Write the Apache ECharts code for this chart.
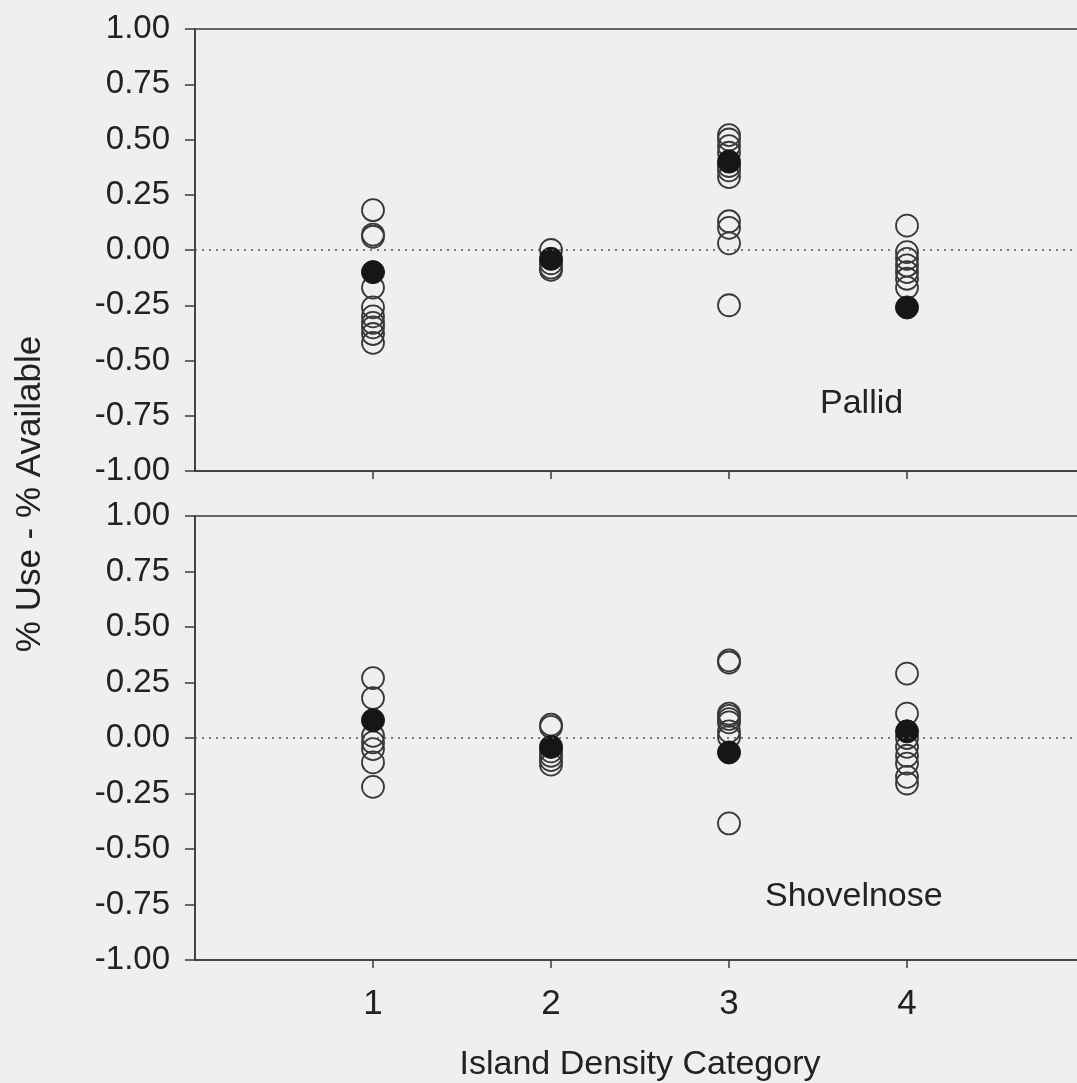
<!DOCTYPE html>
<html>
<head>
<meta charset="utf-8">
<script src="https://cdn.jsdelivr.net/npm/echarts@6/dist/echarts.min.js"></script>
<style>
  html, body { margin: 0; padding: 0; background: #efefee; }
  #chart { width: 1077px; height: 1083px; }
</style>
</head>
<body>
<div id="chart"></div>
<script>
// island density categories on the x axis
var categories = [1, 2, 3, 4]

// open circles: individual values per category
var pallidObs = [
    [0.18, 0.07, 0.06, -0.17, -0.26, -0.30, -0.33, -0.35, -0.38, -0.42],
    [0.00, -0.06, -0.08, -0.09],
    [0.52, 0.50, 0.47, 0.44, 0.38, 0.36, 0.33, 0.13, 0.10, 0.03, -0.25],
    [0.11, -0.01, -0.04, -0.07, -0.10, -0.13, -0.17]
]
var shovelnoseObs = [
    [0.27, 0.18, 0.01, -0.02, -0.05, -0.11, -0.22],
    [0.06, 0.05, -0.06, -0.08, -0.10, -0.12],
    [0.35, 0.34, 0.11, 0.10, 0.085, 0.07, 0.03, 0.005, -0.385],
    [0.29, 0.11, 0.0, -0.04, -0.08, -0.115, -0.175, -0.205]
]
// filled circles: mean per category
var pallidMean = [-0.10, -0.04, 0.40, -0.26]
var shovelnoseMean = [0.08, -0.04, -0.065, 0.03]

var font = 'Liberation Sans, Arial, sans-serif'
var ink = '#3a3a3a'

function pairs(lists) {
    var out = []
    lists.forEach(function(vals, i) {
        vals.forEach(function(v) { out.push([categories[i], v]) })
    })
    return out
}

function xAxisFor(idx, showLabels) {
    return {
        type: 'value', gridIndex: idx, min: 0, max: 5, interval: 1,
        splitLine: { show: false },
        axisLine: { onZero: false, lineStyle: { color: ink, width: 1.5 } },
        axisTick: { show: true, length: 8, customValues: categories, lineStyle: { color: ink, width: 1.5 } },
        axisLabel: {
            show: showLabels, customValues: categories, margin: 27,
            fontFamily: font, fontSize: 35, color: '#222'
        },
        name: showLabels ? 'Island Density Category' : '',
        nameLocation: 'middle', nameGap: 88,
        nameTextStyle: { fontFamily: font, fontSize: 34, color: '#222' }
    }
}

function yAxisFor(idx) {
    return {
        type: 'value', gridIndex: idx, min: -1, max: 1, interval: 0.25,
        splitLine: { show: false },
        axisLine: { lineStyle: { color: ink, width: 1.5 } },
        axisTick: { length: 10, lineStyle: { color: ink, width: 1.5 } },
        axisLabel: {
            margin: 25, fontFamily: font, fontSize: 33, color: '#222',
            formatter: function(v) { return v.toFixed(2) }
        }
    }
}

function openSeries(idx, data) {
    return {
        type: 'scatter', xAxisIndex: idx, yAxisIndex: idx, data: data,
        symbol: 'circle', symbolSize: 22, z: 3,
        itemStyle: { color: 'rgba(0,0,0,0)', borderColor: '#383838', borderWidth: 1.8, opacity: 1 },
        markLine: {
            silent: true, symbol: 'none', label: { show: false },
            lineStyle: { type: [2, 5], color: '#555', width: 1.5 },
            data: [{ yAxis: 0 }]
        }
    }
}

function meanSeries(idx, means) {
    return {
        type: 'scatter', xAxisIndex: idx, yAxisIndex: idx, z: 4,
        data: means.map(function(v, i) { return [categories[i], v] }),
        symbol: 'circle', symbolSize: 23,
        itemStyle: { color: '#161616', borderColor: '#161616', borderWidth: 1, opacity: 1 }
    }
}

var chart = echarts.init(document.getElementById('chart'))
chart.setOption({
    backgroundColor: '#efefee',
    animation: false,
    grid: [
        { left: 195, width: 890, top: 29, height: 442, outerBoundsMode: 'none', show: true, borderColor: ink, borderWidth: 1.5 },
        { left: 195, width: 890, top: 516, height: 444, outerBoundsMode: 'none', show: true, borderColor: ink, borderWidth: 1.5 }
    ],
    xAxis: [xAxisFor(0, false), xAxisFor(1, true)],
    yAxis: [yAxisFor(0), yAxisFor(1)],
    series: [
        openSeries(0, pairs(pallidObs)),
        meanSeries(0, pallidMean),
        openSeries(1, pairs(shovelnoseObs)),
        meanSeries(1, shovelnoseMean)
    ],
    graphic: [
        {
            type: 'text', x: 30, y: 494, rotation: Math.PI / 2,
            style: { text: '% Use - % Available', font: '35px ' + font, fill: '#222', align: 'center', verticalAlign: 'middle' }
        },
        {
            type: 'text', x: 820, y: 404,
            style: { text: 'Pallid', font: '34px ' + font, fill: '#222', align: 'left', verticalAlign: 'middle' }
        },
        {
            type: 'text', x: 765, y: 897,
            style: { text: 'Shovelnose', font: '34px ' + font, fill: '#222', align: 'left', verticalAlign: 'middle' }
        }
    ]
})
</script>
</body>
</html>
